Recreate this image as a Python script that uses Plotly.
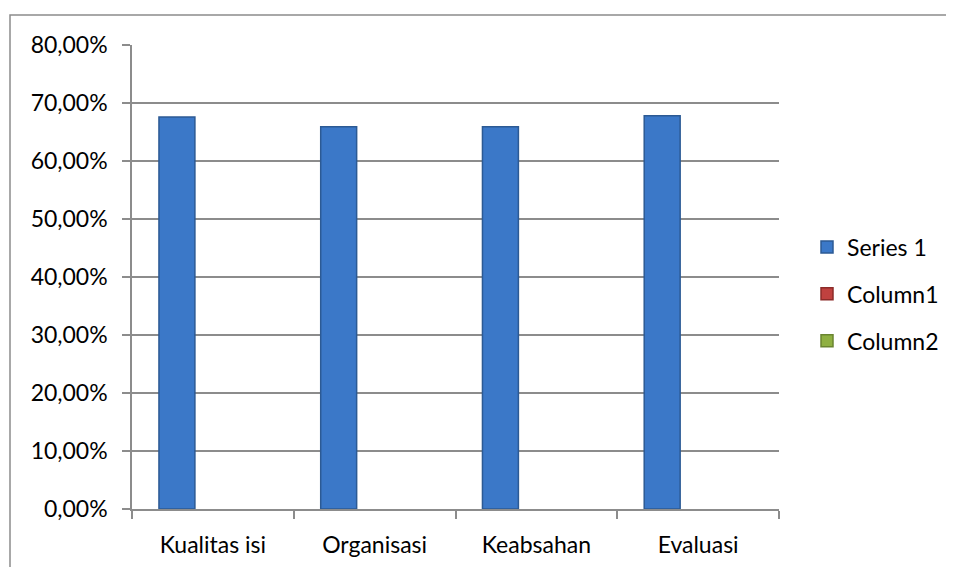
import plotly.graph_objects as go

categories = ["Kualitas isi", "Organisasi", "Keabsahan", "Evaluasi"]
series1 = [0.676, 0.659, 0.659, 0.678]
column1 = [None, None, None, None]
column2 = [None, None, None, None]
y_ticks = [0, 0.1, 0.2, 0.3, 0.4, 0.5, 0.6, 0.7, 0.8]

FONT = "Lato, 'Open Sans', sans-serif"
FS = 23

fig = go.Figure()
fig.add_trace(go.Bar(name="Series 1", x=categories, y=series1, legendgroup="a",
                     marker=dict(color="#3b78c8", line=dict(color="#2c5a94", width=1.5))))
fig.add_trace(go.Bar(name="Column1", x=categories, y=column1, legendgroup="b",
                     marker=dict(color="#c0413f", line=dict(color="#8c2b29", width=1.5))))
fig.add_trace(go.Bar(name="Column2", x=categories, y=column2, legendgroup="c",
                     marker=dict(color="#8fb042", line=dict(color="#6a8530", width=1.5))))

W, H = 946, 559
L, T = 124, 37
PW, PH = 647, 464

fig.update_layout(
    width=W, height=H,
    margin=dict(l=L, r=W - L - PW, t=T, b=H - T - PH, autoexpand=False),
    paper_bgcolor="white", plot_bgcolor="white",
    barmode="group", bargap=1.5 / 4.5, bargroupgap=0,
    separators=",.",
    font=dict(family=FONT, size=FS, color="#000000"),
    showlegend=True,
    legend=dict(x=(807 - 8 - L) / PW, y=0.5 - 17 / PH, xanchor="left", yanchor="middle",
                font=dict(family=FONT, size=FS), tracegroupgap=14,
                itemwidth=30, bgcolor="rgba(0,0,0,0)"),
    shapes=[dict(type="rect", xref="paper", yref="paper",
                 x0=(2 - L) / PW, x1=1.5, y0=-0.5, y1=1 + (T - 7) / PH,
                 line=dict(color="#8c8c8c", width=1.5), fillcolor="rgba(0,0,0,0)",
                 layer="below")],
)
fig.update_xaxes(showline=True, linecolor="#8c8c8c", linewidth=1.5,
                 ticks="outside", tickson="boundaries", ticklen=8, tickcolor="#8c8c8c",
                 tickwidth=1.5, showgrid=False, tickfont=dict(size=FS), ticklabelstandoff=15)
fig.update_yaxes(range=[0, 0.8], tickvals=y_ticks, tickformat=".2%",
                 showline=True, linecolor="#8c8c8c", linewidth=1.5,
                 ticks="outside", ticklen=8, tickcolor="#8c8c8c", tickwidth=1.5,
                 showgrid=True, gridcolor="#8c8c8c", gridwidth=1.5,
                 zeroline=False, tickfont=dict(size=FS), ticklabelstandoff=10)

fig.write_html("out.html")
